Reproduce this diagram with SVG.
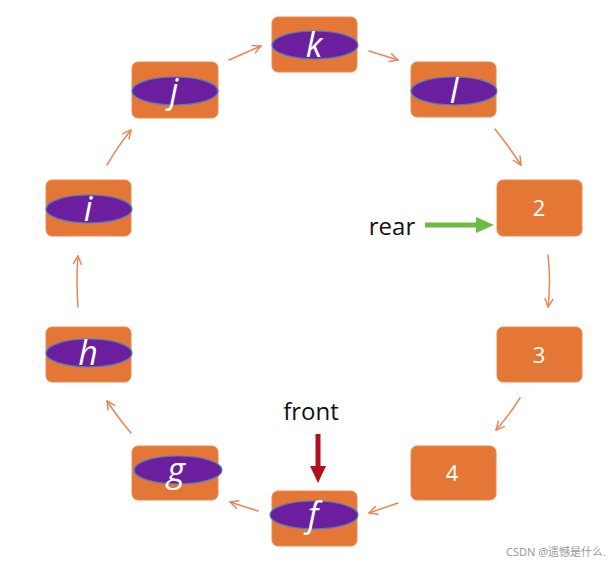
<svg xmlns="http://www.w3.org/2000/svg" width="613" height="563" viewBox="0 0 613 563">
<style>
.box{fill:#E57736;stroke:#E88A4E;stroke-width:1}
.ell{fill:#6B1E9E;stroke:#4F7FBF;stroke-width:1.2}
.let{font-family:"Open Sans","Liberation Sans",sans-serif;font-style:italic;font-size:34px;fill:#fff;text-anchor:middle}
.num{font-family:"Open Sans","Liberation Sans",sans-serif;font-size:22px;fill:#fff;text-anchor:middle}
.lbl{font-family:"Open Sans","Liberation Sans",sans-serif;font-size:24px;fill:#111;text-anchor:middle}
.con{fill:none;stroke:#E5885A;stroke-width:1.5;stroke-linecap:round;marker-end:url(#ah)}
</style>
<defs>
<marker id="ah" viewBox="0 0 10 10" refX="9" refY="5" markerWidth="10" markerHeight="10" markerUnits="userSpaceOnUse" orient="auto">
<path d="M1,1 L9,5 L1,9" fill="none" stroke="#E5885A" stroke-width="1.5" stroke-linecap="round" stroke-linejoin="round"/>
</marker>
</defs>
<rect width="613" height="563" fill="#fff"/>
<g id="connectors">
<path class="con" d="M229,60 L261,46"/>
<path class="con" d="M369,51 L398,60"/>
<path class="con" d="M495,129 Q510,148 521,165"/>
<path class="con" d="M548,255 Q551,282 548,307"/>
<path class="con" d="M520,398 Q510,414 496,430"/>
<path class="con" d="M398,503 L369,513"/>
<path class="con" d="M258,511 L230,502"/>
<path class="con" d="M131,433 Q119,419 107,401"/>
<path class="con" d="M78,307 Q76,281 78,256"/>
<path class="con" d="M107,165 Q118,146 131,130"/>
</g>
<g id="node-k"><rect class="box" x="272" y="17" width="85" height="55" rx="6"/><ellipse class="ell" cx="315" cy="45" rx="43" ry="14"/><text class="let" x="314" y="57">k</text></g>
<g id="node-l"><rect class="box" x="411" y="62" width="85" height="55" rx="6"/><ellipse class="ell" cx="454" cy="91" rx="43" ry="14"/><text class="let" x="454" y="103">l</text></g>
<g id="node-2"><rect class="box" x="497" y="180" width="85" height="56" rx="6"/><text class="num" x="539" y="216">2</text></g>
<g id="node-3"><rect class="box" x="497" y="327" width="85" height="55" rx="6"/><text class="num" x="539" y="363">3</text></g>
<g id="node-4"><rect class="box" x="411" y="446" width="85" height="54" rx="6"/><text class="num" x="452" y="481">4</text></g>
<g id="node-f"><rect class="box" x="272" y="491" width="85" height="55" rx="6"/><ellipse class="ell" cx="314" cy="515" rx="44" ry="14"/><text class="let" x="313" y="527">f</text></g>
<g id="node-g"><rect class="box" x="132" y="446" width="86" height="54" rx="6"/><ellipse class="ell" cx="178" cy="470" rx="44" ry="14"/><text class="let" x="176" y="482">g</text></g>
<g id="node-h"><rect class="box" x="46" y="327" width="85" height="55" rx="6"/><ellipse class="ell" cx="89" cy="353" rx="43" ry="14"/><text class="let" x="88" y="365">h</text></g>
<g id="node-i"><rect class="box" x="46" y="180" width="85" height="56" rx="6"/><ellipse class="ell" cx="89" cy="209" rx="43" ry="14"/><text class="let" x="88" y="221">i</text></g>
<g id="node-j"><rect class="box" x="132" y="62" width="86" height="56" rx="6"/><ellipse class="ell" cx="175" cy="91" rx="43" ry="14"/><text class="let" x="174" y="103">j</text></g>
<g id="rear">
<text class="lbl" x="392" y="235">rear</text>
<line x1="425" y1="225" x2="477" y2="225" stroke="#6DBB47" stroke-width="5"/>
<polygon points="476,217 494,225 476,233" fill="#6DBB47"/>
</g>
<g id="front">
<text class="lbl" x="311" y="420">front</text>
<line x1="318" y1="434" x2="318" y2="467" stroke="#B0101E" stroke-width="5"/>
<polygon points="310,466 326,466 318,483" fill="#B0101E"/>
</g>
<text x="556" y="556" font-family="'Noto Sans','Noto Sans CJK SC',sans-serif" font-size="11" fill="#9a9a9a" text-anchor="middle">CSDN @遗憾是什么.</text>
</svg>
